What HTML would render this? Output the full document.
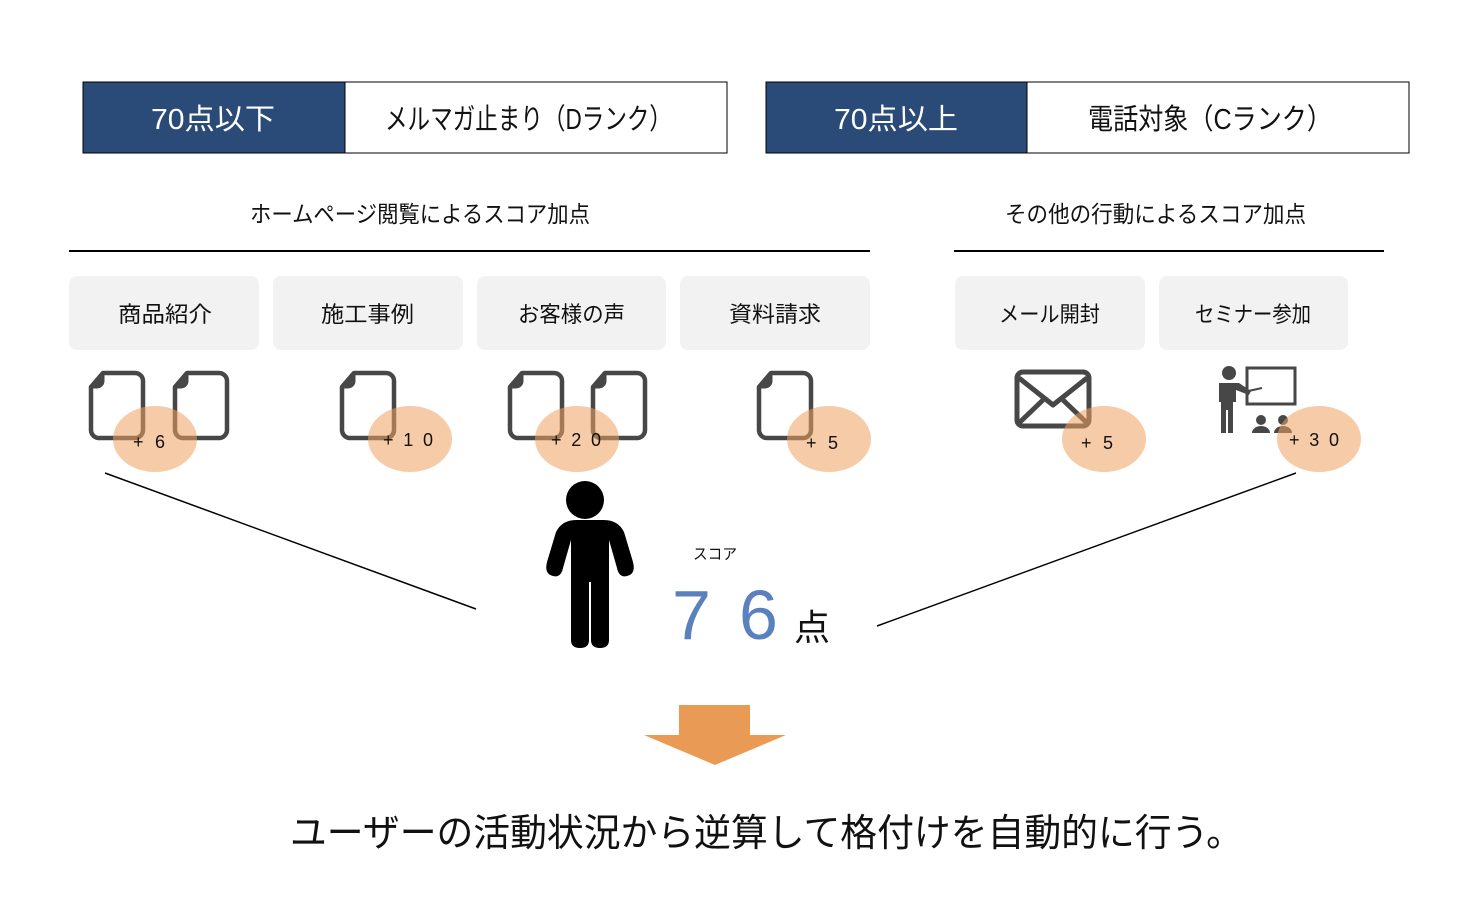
<!DOCTYPE html>
<html><head><meta charset="utf-8"><style>
html,body{margin:0;padding:0;background:#fff;width:1458px;height:906px;overflow:hidden}
text{font-family:"Liberation Sans","Noto Sans CJK JP",sans-serif}
</style></head><body>
<svg width="1458" height="906" viewBox="0 0 1458 906" xmlns="http://www.w3.org/2000/svg">
<defs>
<g id="doc"><path d="M14 2 H46 a8 8 0 0 1 8 8 V59 a8 8 0 0 1 -8 8 H10 a8 8 0 0 1 -8 -8 V16 Z" fill="none" stroke="#474747" stroke-width="4.5" stroke-linejoin="round"/><path d="M2 16 L14 2 V10 a6 6 0 0 1 -6 6 Z" fill="#474747" stroke="#474747" stroke-width="3" stroke-linejoin="round"/></g>
</defs>
<rect x="83" y="82" width="262" height="71" fill="#2A4A78" stroke="#000" stroke-width="1"/>
<rect x="345" y="82" width="382" height="71" fill="#fff" stroke="#000" stroke-width="1"/>
<text x="151" y="129" font-size="29" fill="#fff" textLength="124" lengthAdjust="spacingAndGlyphs">70点以下</text>
<text x="385" y="129" font-size="29" fill="#111" textLength="287" lengthAdjust="spacingAndGlyphs">メルマガ止まり（Dランク）</text>
<rect x="766" y="82" width="261" height="71" fill="#2A4A78" stroke="#000" stroke-width="1"/>
<rect x="1027" y="82" width="382" height="71" fill="#fff" stroke="#000" stroke-width="1"/>
<text x="834" y="129" font-size="29" fill="#fff" textLength="124" lengthAdjust="spacingAndGlyphs">70点以上</text>
<text x="1088" y="129" font-size="29" fill="#111" textLength="244" lengthAdjust="spacingAndGlyphs">電話対象（Cランク）</text>
<text x="250" y="222" font-size="23" fill="#111" textLength="340" lengthAdjust="spacingAndGlyphs">ホームページ閲覧によるスコア加点</text>
<text x="1005" y="222" font-size="23" fill="#111" textLength="301" lengthAdjust="spacingAndGlyphs">その他の行動によるスコア加点</text>
<line x1="69" y1="251" x2="870" y2="251" stroke="#000" stroke-width="2"/>
<line x1="954" y1="251" x2="1384" y2="251" stroke="#000" stroke-width="2"/>
<g fill="#F2F2F2">
<rect x="69" y="276" width="190" height="74" rx="8"/>
<rect x="273" y="276" width="190" height="74" rx="8"/>
<rect x="477" y="276" width="189" height="74" rx="8"/>
<rect x="680" y="276" width="190" height="74" rx="8"/>
<rect x="955" y="276" width="190" height="74" rx="8"/>
<rect x="1159" y="276" width="189" height="74" rx="8"/>
</g>
<g font-size="22" fill="#111" lengthAdjust="spacingAndGlyphs">
<text x="118" y="322" textLength="94" lengthAdjust="spacingAndGlyphs">商品紹介</text>
<text x="321" y="322" textLength="93" lengthAdjust="spacingAndGlyphs">施工事例</text>
<text x="518" y="322" textLength="107" lengthAdjust="spacingAndGlyphs">お客様の声</text>
<text x="729" y="322" textLength="92" lengthAdjust="spacingAndGlyphs">資料請求</text>
<text x="999" y="322" textLength="101" lengthAdjust="spacingAndGlyphs">メール開封</text>
<text x="1195" y="322" textLength="116" lengthAdjust="spacingAndGlyphs">セミナー参加</text>
</g>
<use href="#doc" x="89" y="371"/>
<use href="#doc" x="173" y="371"/>
<use href="#doc" x="340" y="371"/>
<use href="#doc" x="508" y="371"/>
<use href="#doc" x="591" y="371"/>
<use href="#doc" x="757" y="371"/>
<g stroke="#474747" stroke-width="5" fill="none" stroke-linejoin="round">
<rect x="1017" y="372" width="72" height="54" rx="6"/>
<path d="M1019 378 L1053 405 L1087 378"/>
<path d="M1019 423 L1043 400 M1087 423 L1063 400"/>
</g>
<g fill="#474747">
<circle cx="1229" cy="373" r="7"/>
<path d="M1219 383 h20 l12 8 l-2 4 l-13 -5 v12 h-3 v31 h-5 v-23 h-2 v23 h-5 v-31 h-2 z"/>
<rect x="1247" y="368" width="48" height="36" fill="none" stroke="#474747" stroke-width="3"/>
<line x1="1244" y1="392" x2="1262" y2="388" stroke="#474747" stroke-width="2"/>
<circle cx="1261" cy="420" r="5"/><path d="M1252 433 a9 7 0 0 1 18 0 z"/>
<circle cx="1283" cy="420" r="5"/><path d="M1274 433 a9 7 0 0 1 18 0 z"/>
</g>
<g fill="rgba(238,160,95,0.55)">
<ellipse cx="155" cy="439" rx="42" ry="33"/>
<ellipse cx="410" cy="439" rx="42" ry="33"/>
<ellipse cx="577" cy="439" rx="42" ry="33"/>
<ellipse cx="829" cy="439" rx="42" ry="33"/>
<ellipse cx="1104" cy="439" rx="42" ry="33"/>
<ellipse cx="1319" cy="439" rx="42" ry="33"/>
</g>
<g font-size="18" fill="#111" font-family="DejaVu Sans, sans-serif">
<text x="133" y="448" textLength="32" lengthAdjust="spacing">+ 6</text>
<text x="383" y="446" textLength="50" lengthAdjust="spacing">+ 1 0</text>
<text x="551" y="446" textLength="50" lengthAdjust="spacing">+ 2 0</text>
<text x="806" y="449" textLength="32" lengthAdjust="spacing">+ 5</text>
<text x="1081" y="449" textLength="32" lengthAdjust="spacing">+ 5</text>
<text x="1289" y="446" textLength="50" lengthAdjust="spacing">+ 3 0</text>
</g>
<line x1="105" y1="473" x2="476" y2="609" stroke="#000" stroke-width="1.5"/>
<line x1="877" y1="626" x2="1296" y2="473" stroke="#000" stroke-width="1.5"/>
<g fill="#000">
<circle cx="585" cy="500" r="19"/>
<path d="M566 520 h38 q14 0 20 12 l9 30 q3 12 -6 14 q-8 2 -10 -8 l-8 -28 v100 q0 8 -9 8 q-9 0 -9 -8 v-58 h-2 v58 q0 8 -9 8 q-9 0 -9 -8 v-100 l-8 28 q-2 10 -10 8 q-9 -2 -6 -14 l9 -30 q6 -12 20 -12 z"/>
</g>
<text x="693" y="559" font-size="15" fill="#111" textLength="44" lengthAdjust="spacingAndGlyphs">スコア</text>
<text x="672" y="639" font-size="70" fill="#5B80BE">7</text>
<text x="739" y="639" font-size="70" fill="#5B80BE">6</text>
<text x="794" y="640" font-size="36" fill="#111">点</text>
<path d="M679 705 H750 V735 H786 L715 765 L644 735 H679 Z" fill="#E99B55"/>
<text x="290" y="846" font-size="38" fill="#111" textLength="953" lengthAdjust="spacingAndGlyphs">ユーザーの活動状況から逆算して格付けを自動的に行う。</text>
</svg>
</body></html>
